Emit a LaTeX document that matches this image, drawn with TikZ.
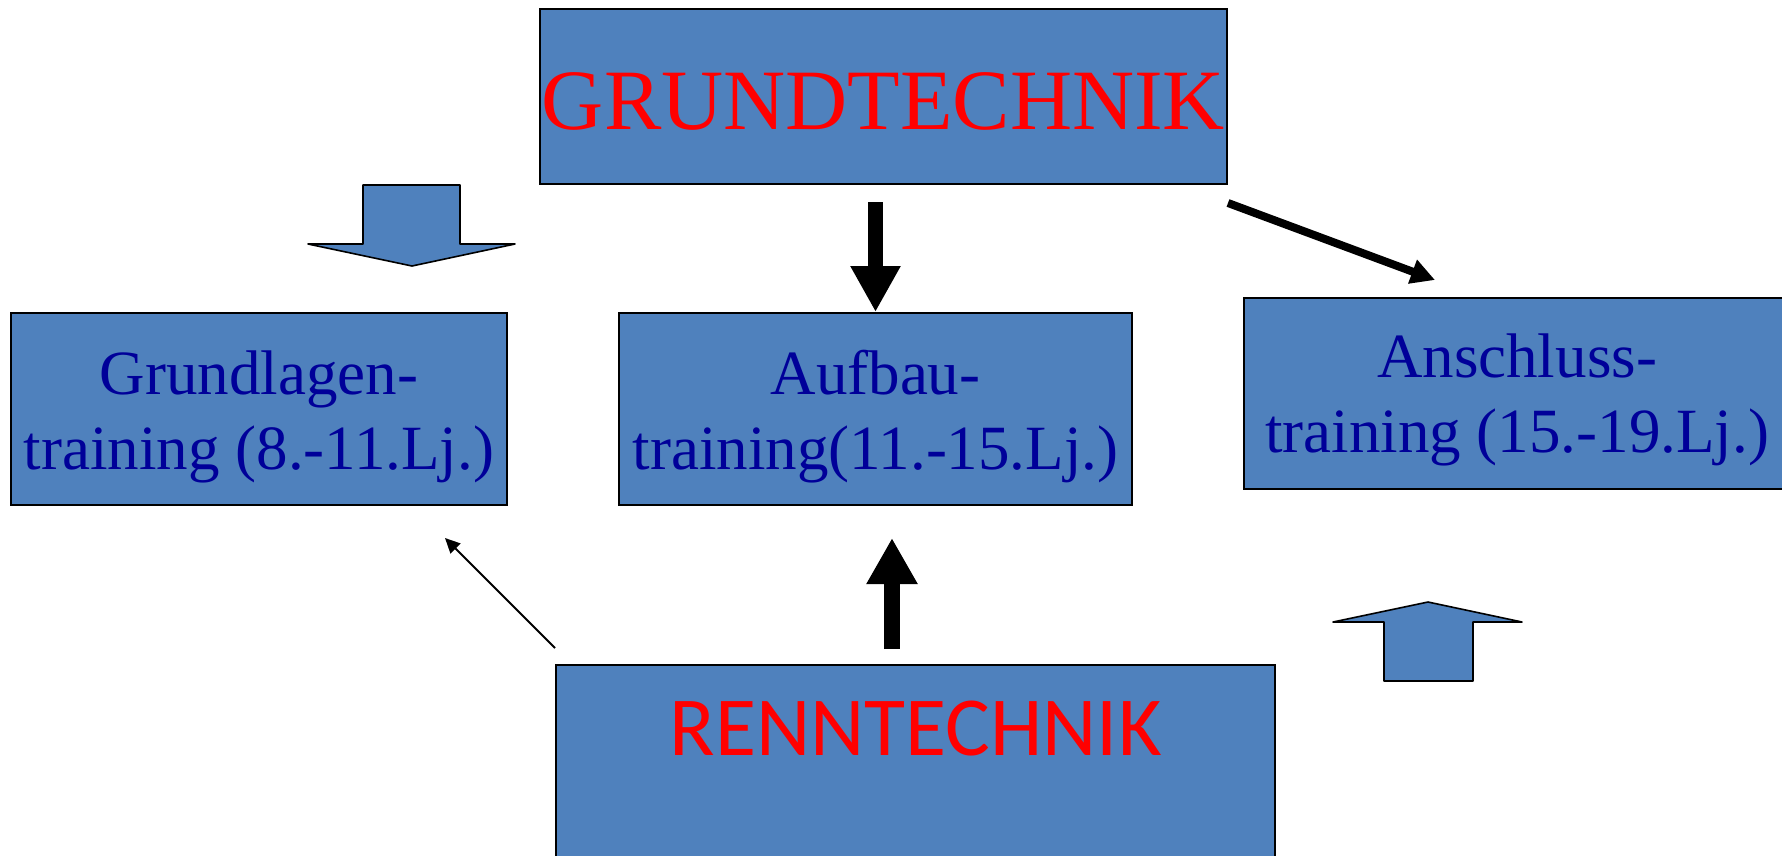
\documentclass[tikz,border=0pt]{standalone}
\usepackage{fontspec}
\setmainfont{Liberation Serif}
\newfontfamily\calibfont{Carlito}
\usetikzlibrary{arrows.meta}
\definecolor{boxblue}{HTML}{4F81BD}
\definecolor{navytext}{HTML}{000099}
\definecolor{headred}{HTML}{FF0000}
\begin{document}
\begin{tikzpicture}[x=1pt,y=-1pt,
  box/.style={draw=black, line width=1.6pt, fill=boxblue, inner sep=0pt, align=center},
  train/.style={box, text=navytext, font=\fontsize{63}{75}\selectfont, minimum height=192pt},
  blockarrow/.style={draw=black, line width=1.6pt, fill=boxblue, line join=round},
  bigarrow/.style={line width=15pt, -{Triangle[length=46pt,width=47pt]}},
  diagarrow/.style={line width=8pt, -{Triangle[length=24pt,width=24pt]}},
  thinarrow/.style={line width=2pt, -{Triangle[length=15pt,width=14pt]}},
]
\clip (0,0) rectangle (1782,855);
\fill[white] (0,0) rectangle (1782,855);

% main boxes
\node[box, text=headred, minimum width=687pt, minimum height=175pt,
      font=\fontsize{86}{90}\selectfont, text height=65pt, text depth=0pt]
      (grund) at (883.5,96.5) {GRUNDTECHNIK};
\node[box, text=headred, minimum width=719pt, minimum height=205pt,
      font=\calibfont\fontsize{84}{90}\selectfont, text height=54pt, text depth=79pt]
      (renn) at (915.5,767.5) {RENNTECHNIK};

\node[train, minimum width=496pt] (grundlagen) at (259,409)
  {\rule{0pt}{60pt}Grundlagen-\\training (8.-11.Lj.)};
\node[train, minimum width=513pt] (aufbau) at (875.5,409)
  {\rule{0pt}{60pt}Aufbau-\\training(11.-15.Lj.)};
\node[train, minimum width=546pt, minimum height=191pt] (anschluss) at (1517,393.5)
  {\rule{0pt}{56pt}Anschluss-\\training (15.-19.Lj.)};

% block arrows
\draw[blockarrow] (363,185) -- (460,185) -- (460,244) -- (515,244) -- (412,266)
  -- (308,244) -- (363,244) -- cycle;
\draw[blockarrow] (1384,681) -- (1473,681) -- (1473,622) -- (1522,622) -- (1428,602)
  -- (1333,622) -- (1384,622) -- cycle;

% connector end points
\coordinate (gdown) at (875.5,202);
\coordinate (adown) at (875.5,312);
\coordinate (rup) at (892,649);
\coordinate (aup) at (892,538);
\coordinate (gdiag) at (1228,203);
\coordinate (adiag) at (1435,280);
\coordinate (rthin) at (555,648);
\coordinate (lthin) at (445,538);

\draw[bigarrow] (gdown) -- (adown);
\draw[line width=16pt, -{Triangle[length=46pt,width=48pt]}] (rup) -- (aup);
\draw[diagarrow] (gdiag) -- (adiag);
\draw[thinarrow] (rthin) -- (lthin);
\end{tikzpicture}
\end{document}
